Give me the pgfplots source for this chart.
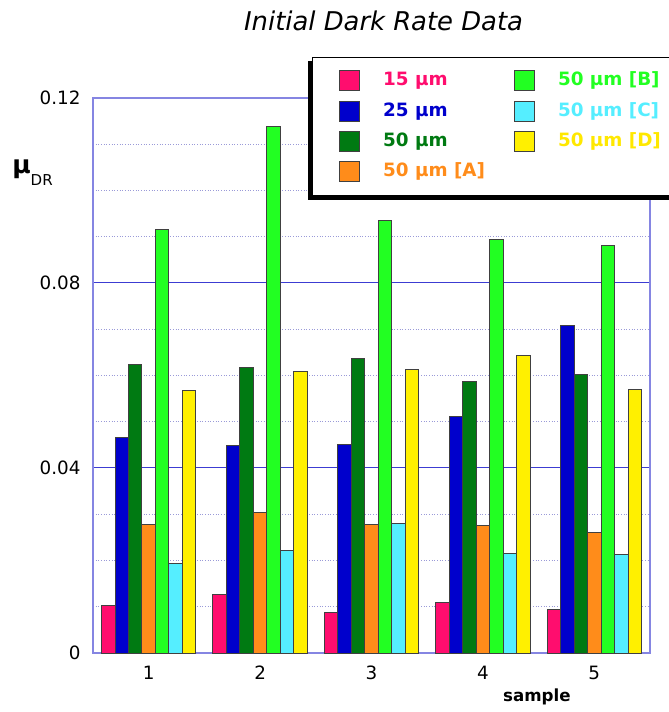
\documentclass[border=0pt]{standalone}
\usepackage{pgfplots}
\pgfplotsset{compat=1.18}
\usepackage{pgfplotstable}
\usepackage{fontspec}
\setmainfont{DejaVu Sans}
\usetikzlibrary{shadows}

\definecolor{c15}{HTML}{FF0D6E}
\definecolor{c25}{HTML}{0000CC}
\definecolor{c50}{HTML}{007A12}
\definecolor{cA}{HTML}{FF8C1A}
\definecolor{cB}{HTML}{22FF22}
\definecolor{cC}{HTML}{55EEFF}
\definecolor{cD}{HTML}{FFF000}
\definecolor{txtD}{HTML}{FFE800}
\definecolor{axframe}{HTML}{8585E2}
\definecolor{gridmaj}{HTML}{3C3CD2}
\definecolor{gridmin}{HTML}{9A9AD8}

% keep the legend frame's shadow off the small legend squares
\makeatletter
\tikzset{no preactions/.code={\let\tikz@preactions\pgfutil@empty}}
\makeatother

% initial dark rate per sample
\pgfplotstableread{
s  r15    r25    r50    rA     rB     rC     rD
1  0.0103 0.0466 0.0624 0.0277 0.0915 0.0194 0.0568
2  0.0127 0.0449 0.0618 0.0304 0.1139 0.0222 0.0609
3  0.0088 0.0451 0.0636 0.0277 0.0936 0.0280 0.0614
4  0.0109 0.0511 0.0586 0.0276 0.0893 0.0216 0.0643
5  0.0094 0.0708 0.0603 0.0261 0.0880 0.0213 0.0569
}\darkrate

\pgfplotsset{
  sqleg/.style={legend image code/.code={\draw[no preactions, ##1] (0pt,-6pt) rectangle (12pt,6pt);}},
  barsty/.style={fill=#1, draw=black!75, line width=0.6pt, sqleg},
}

\begin{document}
\begin{tikzpicture}
\begin{axis}[
  at={(0,0)}, anchor=south west,
  scale only axis, width=334.2pt, height=333pt,
  ybar, bar width=0.121,
  xmin=0.5, xmax=5.5, ymin=0, ymax=0.12,
  xtick={1,2,3,4,5},
  ytick={0,0.04,0.08,0.12},
  yticklabels={0,0.04,0.08,0.12},
  scaled y ticks=false,
  minor y tick num=3,
  tick style={draw=none},
  /pgf/number format/assume math mode=true,
  axis line style={draw=axframe, line width=0.8pt},
  ymajorgrids, yminorgrids,
  major grid style={draw=gridmaj, line width=0.6pt},
  minor grid style={draw=gridmin, line width=0.6pt, densely dotted},
  tick label style={font=\fontsize{11}{13}\selectfont},
  yticklabel style={xshift=-4pt},
  xticklabel style={yshift=0pt},
  title={Initial Dark Rate Data},
  title style={at={(0.5216,1.1207)}, anchor=center, font=\itshape\fontsize{15.5}{18}\selectfont},
  xlabel={sample},
  every axis x label/.style={at={(0.797,-0.0793)}, anchor=center, font=\bfseries\fontsize{10}{12}\selectfont},
  ylabel={{\bfseries\fontsize{15}{15}\selectfont μ}\raisebox{-7pt}{\fontsize{9}{10}\selectfont DR}},
  every axis y label/.style={at={(-0.1454,0.866)}, anchor=west, inner sep=0pt},
  legend columns=2,
  legend cell align=left,
  legend style={
    at={(0.3932,1.0745)}, anchor=north west,
    draw=black, line width=0.6pt, fill=white,
    drop shadow={shadow xshift=-2.5pt, shadow yshift=-2.5pt, fill=black, opacity=1},
    inner xsep=16pt, inner ysep=8pt,
    font=\bfseries\fontsize{11}{13}\selectfont,
    nodes={inner sep=0pt, text height=9pt, text depth=3pt},
    row sep=5.6pt,
    /tikz/every odd column/.append style={column sep=13.8pt},
    /tikz/every even column/.append style={column sep=17.4pt},
  },
]
\addplot[barsty=c15, bar shift=-0.363] table[x=s,y=r15]{\darkrate};
\addlegendentry{\textcolor{c15}{15 μm}}
\addplot[barsty=cB, bar shift=0.121] table[x=s,y=rB]{\darkrate};
\addlegendentry{\textcolor{cB}{50 μm [B]}}
\addplot[barsty=c25, bar shift=-0.242] table[x=s,y=r25]{\darkrate};
\addlegendentry{\textcolor{c25}{25 μm}}
\addplot[barsty=cC, bar shift=0.242] table[x=s,y=rC]{\darkrate};
\addlegendentry{\textcolor{cC}{50 μm [C]}}
\addplot[barsty=c50, bar shift=-0.121] table[x=s,y=r50]{\darkrate};
\addlegendentry{\textcolor{c50}{50 μm}}
\addplot[barsty=cD, bar shift=0.363] table[x=s,y=rD]{\darkrate};
\addlegendentry{\textcolor{txtD}{50 μm [D]}}
\addplot[barsty=cA, bar shift=0] table[x=s,y=rA]{\darkrate};
\addlegendentry{\textcolor{cA}{50 μm [A]}}
\end{axis}
\pgfresetboundingbox
\useasboundingbox (-55.8pt,-35.4pt) rectangle (345pt,391.8pt);
\end{tikzpicture}
\end{document}
